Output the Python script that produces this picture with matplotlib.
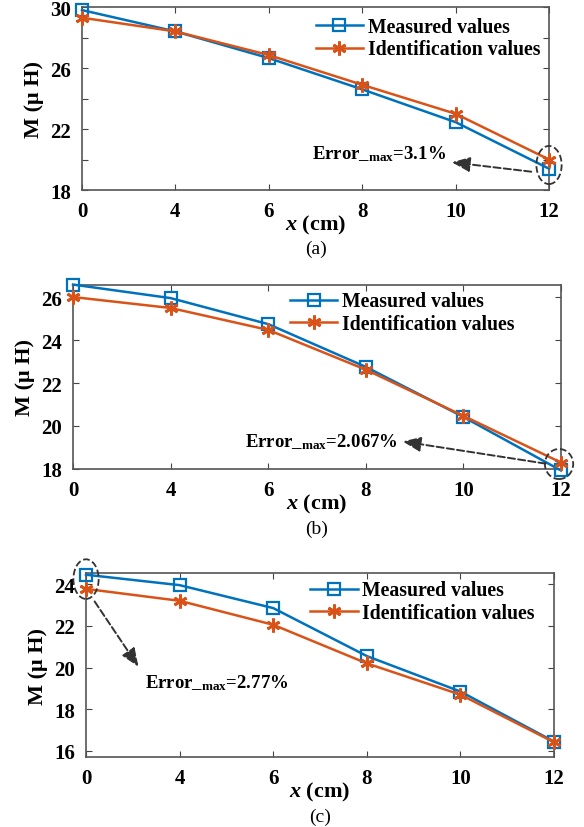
import numpy as np
import matplotlib.pyplot as plt
from matplotlib.patches import Ellipse

plt.rcParams['font.family'] = ['Liberation Serif', 'DejaVu Serif']
plt.rcParams['font.weight'] = 'bold'
plt.rcParams['axes.labelweight'] = 'bold'
plt.rcParams['mathtext.fontset'] = 'custom'
plt.rcParams['mathtext.rm'] = 'Liberation Serif:bold'
plt.rcParams['mathtext.bf'] = 'Liberation Serif:bold'
plt.rcParams['mathtext.it'] = 'Liberation Serif:italic:bold'

# distance between coils, plotted at equal spacing
x_cm = ['0', '4', '6', '8', '10', '12']
pos = np.arange(len(x_cm))

meas_a = [29.8, 28.4, 26.65, 24.6, 22.45, 19.4]
ident_a = [29.3, 28.4, 26.85, 24.9, 23.0, 20.0]

meas_b = [26.58, 25.95, 24.74, 22.75, 20.42, 17.93]
ident_b = [26.0, 25.49, 24.47, 22.62, 20.47, 18.3]

meas_c = [24.45, 23.95, 22.85, 20.55, 18.85, 16.45]
ident_c = [23.77, 23.2, 22.05, 20.2, 18.7, 16.42]

err_a = 'Error_$_{\\mathbf{max}}$=3.1%'
err_b = 'Error_$_{\\mathbf{max}}$=2.067%'
err_c = 'Error_$_{\\mathbf{max}}$=2.77%'

blue = '#0072BD'
orange = '#D95319'
fs = 15

fig = plt.figure(figsize=(5.84, 8.28), dpi=100)
ax_a = fig.add_axes([0.1404, 0.7693, 0.7997, 0.2210])
ax_b = fig.add_axes([0.125, 0.4324, 0.8356, 0.2222])
ax_c = fig.add_axes([0.1473, 0.0845, 0.8014, 0.2222])


def draw_panel(ax, meas, ident, ylim, yticks, ylabels, leg_xy, caption):
    ax.plot(pos, meas, '-', color=blue, lw=1.8, marker='s', ms=8, mfc='none',
            mew=1.6, label='Measured values', clip_on=False, zorder=3)
    ax.plot(pos, ident, '-', color=orange, lw=1.8, marker=(6, 2, 0), ms=10,
            mew=2.0, label='Identification values', clip_on=False, zorder=4)
    ax.set_xlim(0, 5)
    ax.set_ylim(*ylim)
    ax.set_xticks(pos)
    ax.set_xticklabels(x_cm)
    ax.set_yticks(yticks)
    ax.set_yticklabels(ylabels)
    ax.tick_params(direction='in', top=True, right=True, labelsize=fs,
                   length=4, color='#444444', pad=8)
    for s in ax.spines.values():
        s.set_color('#555555')
        s.set_linewidth(1.2)
    ax.set_ylabel('M (μ H)', fontsize=16, labelpad=4)
    ax.set_xlabel('$\\mathit{x}$ (cm)', fontsize=16, labelpad=-6)
    ax.legend(loc='upper left', bbox_to_anchor=leg_xy, frameon=False,
              fontsize=14.2, handlelength=2.4, handletextpad=0.25,
              labelspacing=0.12, borderpad=0, borderaxespad=0)
    ax.text(0.5, -0.32, caption, transform=ax.transAxes, ha='center',
            va='center', fontsize=14, fontweight='normal')


def mark_error(ax, center, w, h, start, tip, text_xy, text, ha):
    ax.add_patch(Ellipse(center, w, h, fill=False, ls='--', lw=1.3,
                         ec='#333333', clip_on=False, zorder=5))
    ax.annotate('', xy=tip, xytext=start,
                arrowprops=dict(arrowstyle='-|>,head_length=1.1,head_width=0.45',
                                ls='--', lw=1.4, color='#333333', fc='#333333'),
                annotation_clip=False)
    ax.text(text_xy[0], text_xy[1], text, ha=ha, va='center', fontsize=13.5)


draw_panel(ax_a, meas_a, ident_a, (18, 30), [18, 20, 22, 24, 26, 28, 30],
           ['18', '', '22', '', '26', '', '30'], (0.50, 0.945), '(a)')
mark_error(ax_a, (5.0, 19.64), 0.27, 2.5, (4.84, 19.18), (3.93, 19.84),
           (3.90, 20.45), err_a, 'right')

draw_panel(ax_b, meas_b, ident_b, (18, 26.56), [18, 20, 22, 24, 26],
           ['18', '20', '22', '24', '26'], (0.445, 0.965), '(b)')
mark_error(ax_b, (4.98, 18.23), 0.29, 1.4, (4.87, 18.23), (3.35, 19.3),
           (3.33, 19.3), err_b, 'right')

draw_panel(ax_c, meas_c, ident_c, (15.71, 24.53), [16, 18, 20, 22, 24],
           ['16', '18', '20', '22', '24'], (0.479, 0.96), '(c)')
mark_error(ax_c, (0.0, 24.24), 0.27, 1.9, (0.075, 23.28), (0.577, 19.93),
           (0.63, 19.3), err_c, 'left')

fig.savefig('out.png', dpi=100)
